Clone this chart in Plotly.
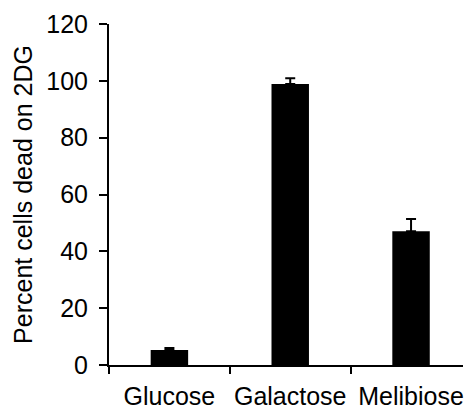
import plotly.graph_objects as go

# Sugar source and percent of cells killed on 2-deoxyglucose
sugars = ["Glucose", "Galactose", "Melibiose"]
percent_dead = [5.3, 98.9, 47.1]
error_up = [0.7, 2.0, 4.3]

y_ticks = [0, 20, 40, 60, 80, 100, 120]

FONT = "Liberation Sans, Arial, sans-serif"
FS = 25

fig = go.Figure(
    go.Bar(
        x=sugars,
        y=percent_dead,
        marker=dict(color="black", line=dict(width=0)),
        error_y=dict(
            type="data",
            symmetric=False,
            array=error_up,
            arrayminus=[0] * len(error_up),
            color="black",
            thickness=2,
            width=5,
        ),
    )
)

fig.update_layout(
    width=465,
    height=409,
    margin=dict(l=109, r=2, t=24, b=44, autoexpand=False),
    paper_bgcolor="white",
    plot_bgcolor="white",
    bargap=0.69,
    showlegend=False,
    font=dict(family=FONT, size=FS, color="black"),
)

fig.update_xaxes(
    type="category",
    range=[-0.5, 2.43],
    showline=True,
    linecolor="black",
    linewidth=1.5,
    ticks="outside",
    tickson="boundaries",
    ticklen=7,
    tickwidth=1.5,
    tickcolor="black",
    showgrid=False,
    tickangle=0,
    tickfont=dict(family=FONT, size=FS, color="black"),
    ticklabelstandoff=8,
    automargin=False,
)

fig.update_yaxes(
    range=[0, 120],
    tickvals=y_ticks,
    ticktext=[str(v) for v in y_ticks],
    showline=True,
    linecolor="black",
    linewidth=2,
    ticks="outside",
    ticklen=8,
    tickwidth=1.5,
    tickcolor="black",
    showgrid=False,
    zeroline=False,
    tickfont=dict(family=FONT, size=FS, color="black"),
    ticklabelstandoff=6,
    title=dict(text="Percent cells dead on 2DG", font=dict(family=FONT, size=FS, color="black"), standoff=7),
    automargin=False,
)

fig.write_html("out.html")
